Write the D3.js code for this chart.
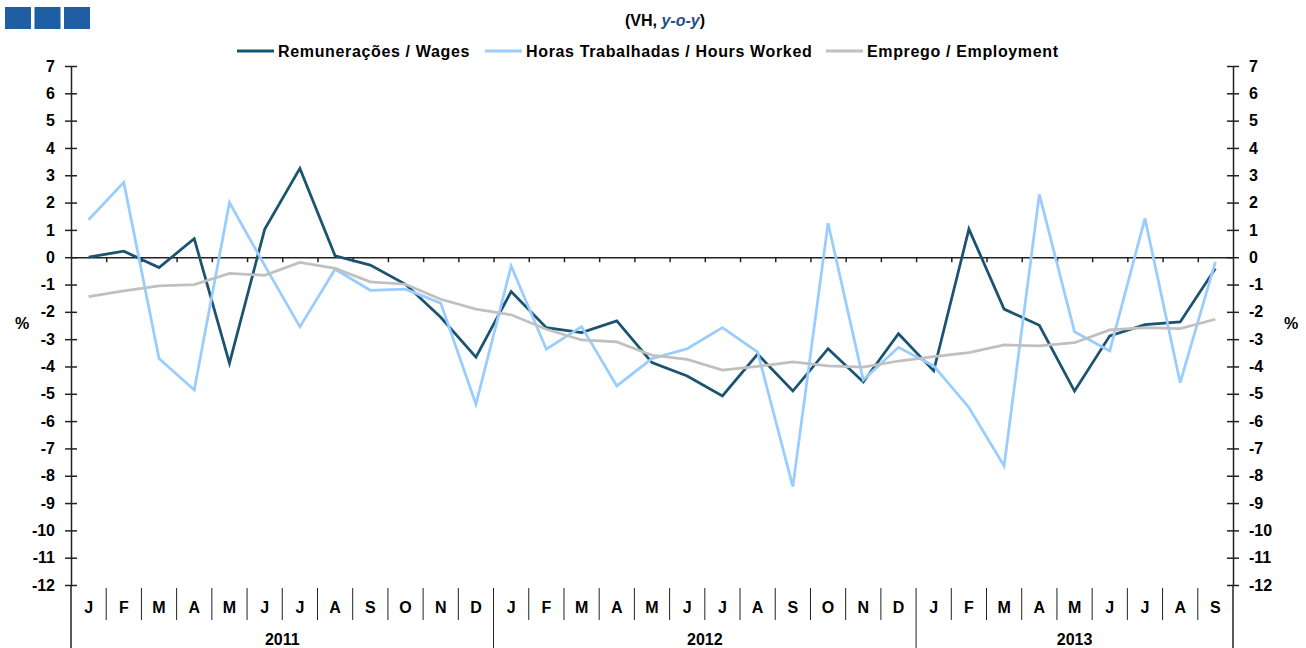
<!DOCTYPE html>
<html>
<head>
<meta charset="utf-8">
<script src="https://cdn.jsdelivr.net/npm/d3@7"></script>
<style>
  body { margin: 0; background: #fff; }
  svg { display: block; font-family: "Liberation Sans", Arial, sans-serif; }
</style>
</head>
<body>
<div id="chart"></div>
<script>
const months = ["J", "F", "M", "A", "M", "J", "J", "A", "S", "O", "N", "D",
                "J", "F", "M", "A", "M", "J", "J", "A", "S", "O", "N", "D",
                "J", "F", "M", "A", "M", "J", "J", "A", "S"];
const years = ["2011", "2012", "2013"];

const wages = [0.0, 0.22, -0.38, 0.68, -3.88, 1.02, 3.25, 0.05, -0.29, -0.99, -2.2, -3.66,
               -1.26, -2.58, -2.76, -2.33, -3.86, -4.35, -5.08, -3.55, -4.9, -3.35, -4.57, -2.8,
               -4.16, 1.03, -1.9, -2.49, -4.9, -2.88, -2.47, -2.37, -0.41];
const hours = [1.37, 2.74, -3.71, -4.86, 2.0, -0.3, -2.55, -0.44, -1.21, -1.17, -1.68, -5.38,
               -0.32, -3.37, -2.54, -4.71, -3.71, -3.35, -2.58, -3.47, -8.4, 1.25, -4.49, -3.3,
               -3.98, -5.5, -7.64, 2.3, -2.73, -3.43, 1.42, -4.59, -0.17];
const employment = [-1.44, -1.23, -1.05, -1.0, -0.59, -0.66, -0.19, -0.41, -0.9, -0.99, -1.54, -1.9,
                    -2.11, -2.64, -3.03, -3.1, -3.59, -3.74, -4.13, -4.0, -3.83, -3.98, -4.02, -3.8,
                    -3.64, -3.49, -3.21, -3.25, -3.13, -2.66, -2.58, -2.61, -2.27];

const seriesNames = ["Remunerações / Wages", "Horas Trabalhadas / Hours Worked", "Emprego / Employment"];
const colors = ["#1a5470", "#99ccff", "#c0c0c0"];

const width = 1306, height = 648;
const plotLeft = 71, plotRight = 1233, plotTop = 66, plotBottom = 585;

const svg = d3.select("#chart").append("svg")
  .attr("width", width)
  .attr("height", height);

const idx = d3.range(months.length);
const x = d3.scaleBand().domain(idx).range([plotLeft, plotRight]).padding(0);
const xEdge = d3.scaleLinear().domain([0, months.length]).range([plotLeft, plotRight]);
const y = d3.scaleLinear().domain([-12, 7]).range([plotBottom, plotTop]);

// header
svg.append("g").selectAll("rect")
  .data([0, 1, 2])
  .enter().append("rect")
  .attr("x", d => 5 + d * 29.5)
  .attr("y", 7)
  .attr("width", 26)
  .attr("height", 22)
  .attr("fill", "#1f5ea3");

const sub = svg.append("text")
  .attr("x", 665).attr("y", 26)
  .attr("text-anchor", "middle")
  .attr("font-size", 16).attr("font-weight", "bold")
  .attr("fill", "#000");
sub.append("tspan").text("(VH, ");
sub.append("tspan").attr("font-style", "italic").attr("fill", "#1f4e8c").text("y-o-y");
sub.append("tspan").text(")");

// legend
const legendX = [237, 485, 826];
const legend = svg.append("g").selectAll("g")
  .data(seriesNames)
  .enter().append("g")
  .attr("transform", (d, i) => `translate(${legendX[i]},51)`);
legend.append("line")
  .attr("x1", 0).attr("x2", 37)
  .attr("stroke", (d, i) => colors[i])
  .attr("stroke-width", 3);
legend.append("text")
  .attr("x", 41).attr("dy", "0.35em")
  .attr("font-size", 16).attr("font-weight", "bold")
  .attr("letter-spacing", 0.65)
  .text(d => d);

// y axes
const yLeft = svg.append("g")
  .attr("transform", `translate(${plotLeft},0)`)
  .call(d3.axisLeft(y).ticks(19).tickSize(6).tickPadding(10).tickSizeOuter(0).tickFormat(d => String(d)));
const yRight = svg.append("g")
  .attr("transform", `translate(${plotRight},0)`)
  .call(d3.axisRight(y).ticks(19).tickSize(6).tickPadding(10).tickSizeOuter(0).tickFormat(d => String(d)));
[yLeft, yRight].forEach(g => {
  g.selectAll(".tick line").attr("x1", -6).attr("x2", 6).attr("stroke", "#222").attr("stroke-width", 1.5);
  g.select(".domain").attr("stroke", "#222").attr("stroke-width", 1.5);
  g.selectAll(".tick text").attr("font-size", 16).attr("font-weight", "bold").attr("fill", "#000")
    .attr("font-family", "Liberation Sans, Arial, sans-serif");
});

svg.append("g").selectAll("line")
  .data([plotLeft, plotRight])
  .enter().append("line")
  .attr("x1", d => d).attr("x2", d => d)
  .attr("y1", plotBottom).attr("y2", height)
  .attr("stroke", "#222").attr("stroke-width", 1.5);

svg.append("text").attr("x", 22).attr("y", 329)
  .attr("text-anchor", "middle").attr("font-size", 16).attr("font-weight", "bold").text("%");
svg.append("text").attr("x", 1291).attr("y", 329)
  .attr("text-anchor", "middle").attr("font-size", 16).attr("font-weight", "bold").text("%");

// zero line with month ticks
svg.append("g")
  .attr("transform", `translate(0,${y(0)})`)
  .call(d3.axisBottom(xEdge).tickValues(d3.range(1, months.length)).tickSize(5).tickFormat("").tickSizeOuter(0))
  .call(g => g.selectAll("line, path").attr("stroke", "#222").attr("stroke-width", 1.5));

// category axis at the bottom
svg.append("g").selectAll("line")
  .data(d3.range(1, months.length))
  .enter().append("line")
  .attr("x1", d => xEdge(d)).attr("x2", d => xEdge(d))
  .attr("y1", 588)
  .attr("y2", d => d % 12 === 0 ? height : 620)
  .attr("stroke", "#222").attr("stroke-width", 1);

svg.append("g")
  .attr("transform", "translate(0,607)")
  .call(d3.axisBottom(x).tickSize(0).tickPadding(0).tickFormat(i => months[i]))
  .call(g => g.select(".domain").remove())
  .call(g => g.selectAll("text").attr("dy", "0.35em").attr("font-size", 16).attr("font-weight", "bold")
    .attr("fill", "#000").attr("font-family", "Liberation Sans, Arial, sans-serif"));

svg.append("g").selectAll("text")
  .data(years)
  .enter().append("text")
  .attr("x", (d, i) => (xEdge(i * 12) + xEdge(Math.min((i + 1) * 12, months.length))) / 2)
  .attr("y", 639).attr("dy", "0.35em")
  .attr("text-anchor", "middle")
  .attr("font-size", 16).attr("font-weight", "bold")
  .text(d => d);

// lines
const line = d3.line()
  .x((d, i) => x(i) + x.bandwidth() / 2)
  .y(d => y(d));

svg.append("g").selectAll("path")
  .data([wages, hours, employment])
  .enter().append("path")
  .attr("d", line)
  .attr("fill", "none")
  .attr("stroke", (d, i) => colors[i])
  .attr("stroke-width", 2.75)
  .attr("stroke-linejoin", "miter");
</script>
</body>
</html>
